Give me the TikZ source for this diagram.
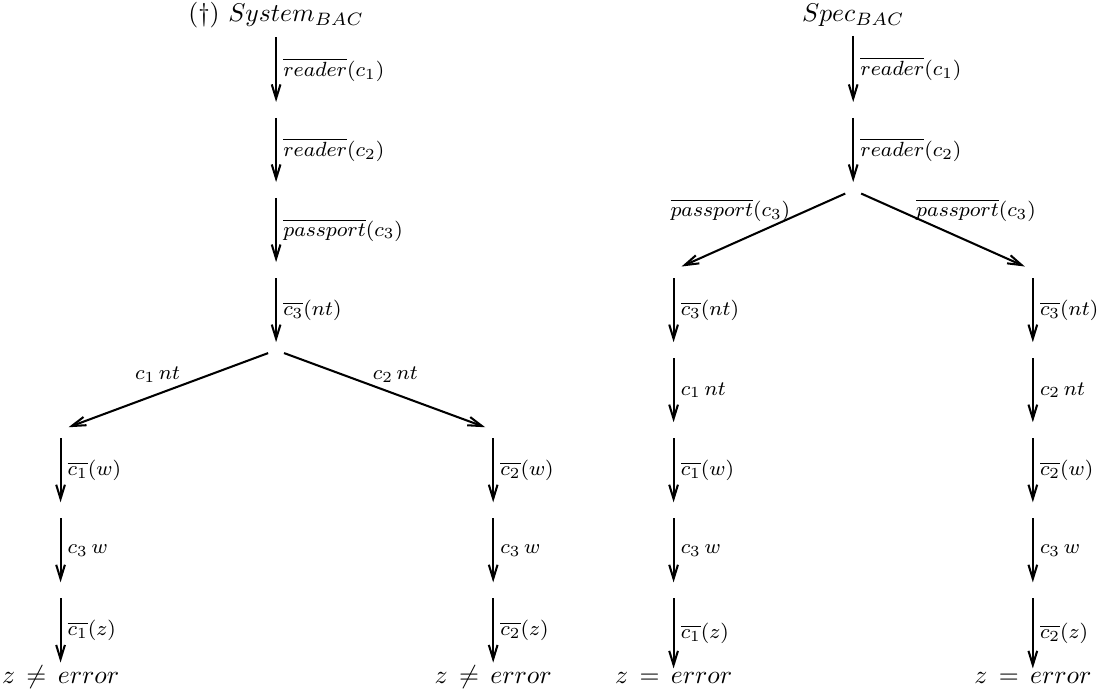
\documentclass[tikz,border=0pt]{standalone}
\usepackage{amsmath}
\usepackage{tikz}
\usetikzlibrary{arrows.meta}
\usetikzlibrary{positioning}

\begin{document}
\begin{tikzpicture}[node distance=31.2pt,on grid,auto,>={Straight Barb[length=5.5pt,width=3.4pt]},thick,
  proc/.style={inner sep=2.7pt},
  lab/.style={font=\fontsize{8.2pt}{10pt}\selectfont, inner sep=2.4pt},
  res/.style={inner sep=1pt}]
\useasboundingbox (-107.6pt,5.85pt) rectangle (320.3pt,-263.8pt);
% System_BAC
\path node (sys) {(\dag)~$System_{BAC}$};
\path node[proc, below=37pt of sys] (s1) {};
\path node[proc, below=of s1] (s2) {};
\path node[proc, below=of s2] (s3) {};
\path node[proc, below=of s3] (s4) {};
\path[->] (sys) edge node[lab] {$\overline{reader}(c_1)$} (s1);
\path[->] (s1) edge node[lab] {$\overline{reader}(c_2)$} (s2);
\path[->] (s2) edge node[lab] {$\overline{passport}(c_3)$} (s3);
\path[->] (s3) edge node[lab] {$\overline{c_3}(nt)$} (s4);
\path node[proc, below left=31.2pt and 84pt of s4] (l0) {};
\path node[proc, below right=31.2pt and 84.6pt of s4] (r0) {};
\path[->] (s4) edge node[lab, pos=.43, above left, inner sep=.5pt] {$c_1\,nt$} (l0);
\path[->] (s4) edge node[lab, pos=.43, above right, inner sep=.5pt] {$c_2\,nt$} (r0);
\path node[proc, below=of l0] (l1) {};
\path node[proc, below=of l1] (l2) {};
\path node[res, below=34pt of l2] (lz) {$z \,\neq\, error$};
\path[->] (l0) edge node[lab] {$\overline{c_1}(w)$} (l1);
\path[->] (l1) edge node[lab] {$c_3\,w$} (l2);
\path[->] (l2) edge node[lab] {$\overline{c_1}(z)$} (lz);
\path node[proc, below=of r0] (r1) {};
\path node[proc, below=of r1] (r2) {};
\path node[res, below=34pt of r2] (rz) {$z \,\neq\, error$};
\path[->] (r0) edge node[lab] {$\overline{c_2}(w)$} (r1);
\path[->] (r1) edge node[lab] {$c_3\,w$} (r2);
\path[->] (r2) edge node[lab] {$\overline{c_2}(z)$} (rz);
% Spec_BAC
\path node[right=224.9pt of sys] (spec) {$Spec_{BAC}$};
\path node[proc, below=37pt of spec] (p1) {};
\path node[proc, below=of p1] (p2) {};
\path[->] (spec) edge node[lab] {$\overline{reader}(c_1)$} (p1);
\path[->] (p1) edge node[lab] {$\overline{reader}(c_2)$} (p2);
\path node[proc, below left=31.2pt and 70pt of p2] (a0) {};
\path node[proc, below right=31.2pt and 70pt of p2] (b0) {};
\path[->] (p2) edge node[lab, pos=.33, anchor=south east, inner sep=0pt, yshift=-2pt] {$\overline{passport}(c_3)$} (a0);
\path[->] (p2) edge node[lab, pos=.33, anchor=south west, inner sep=0pt, yshift=-2pt] {$\overline{passport}(c_3)$} (b0);
\path node[proc, below=of a0] (a1) {};
\path node[proc, below=of a1] (a2) {};
\path node[proc, below=of a2] (a3) {};
\path node[proc, below=of a3] (a4) {};
\path node[res, below=34pt of a4] (az) {$z \,=\, error$};
\path[->] (a0) edge node[lab] {$\overline{c_3}(nt)$} (a1);
\path[->] (a1) edge node[lab] {$c_1\,nt$} (a2);
\path[->] (a2) edge node[lab] {$\overline{c_1}(w)$} (a3);
\path[->] (a3) edge node[lab] {$c_3\,w$} (a4);
\path[->] (a4) edge node[lab] {$\overline{c_1}(z)$} (az);
\path node[proc, below=of b0] (b1) {};
\path node[proc, below=of b1] (b2) {};
\path node[proc, below=of b2] (b3) {};
\path node[proc, below=of b3] (b4) {};
\path node[res, below=34pt of b4] (bz) {$z \,=\, error$};
\path[->] (b0) edge node[lab] {$\overline{c_3}(nt)$} (b1);
\path[->] (b1) edge node[lab] {$c_2\,nt$} (b2);
\path[->] (b2) edge node[lab] {$\overline{c_2}(w)$} (b3);
\path[->] (b3) edge node[lab] {$c_3\,w$} (b4);
\path[->] (b4) edge node[lab] {$\overline{c_2}(z)$} (bz);
\end{tikzpicture}
\end{document}
